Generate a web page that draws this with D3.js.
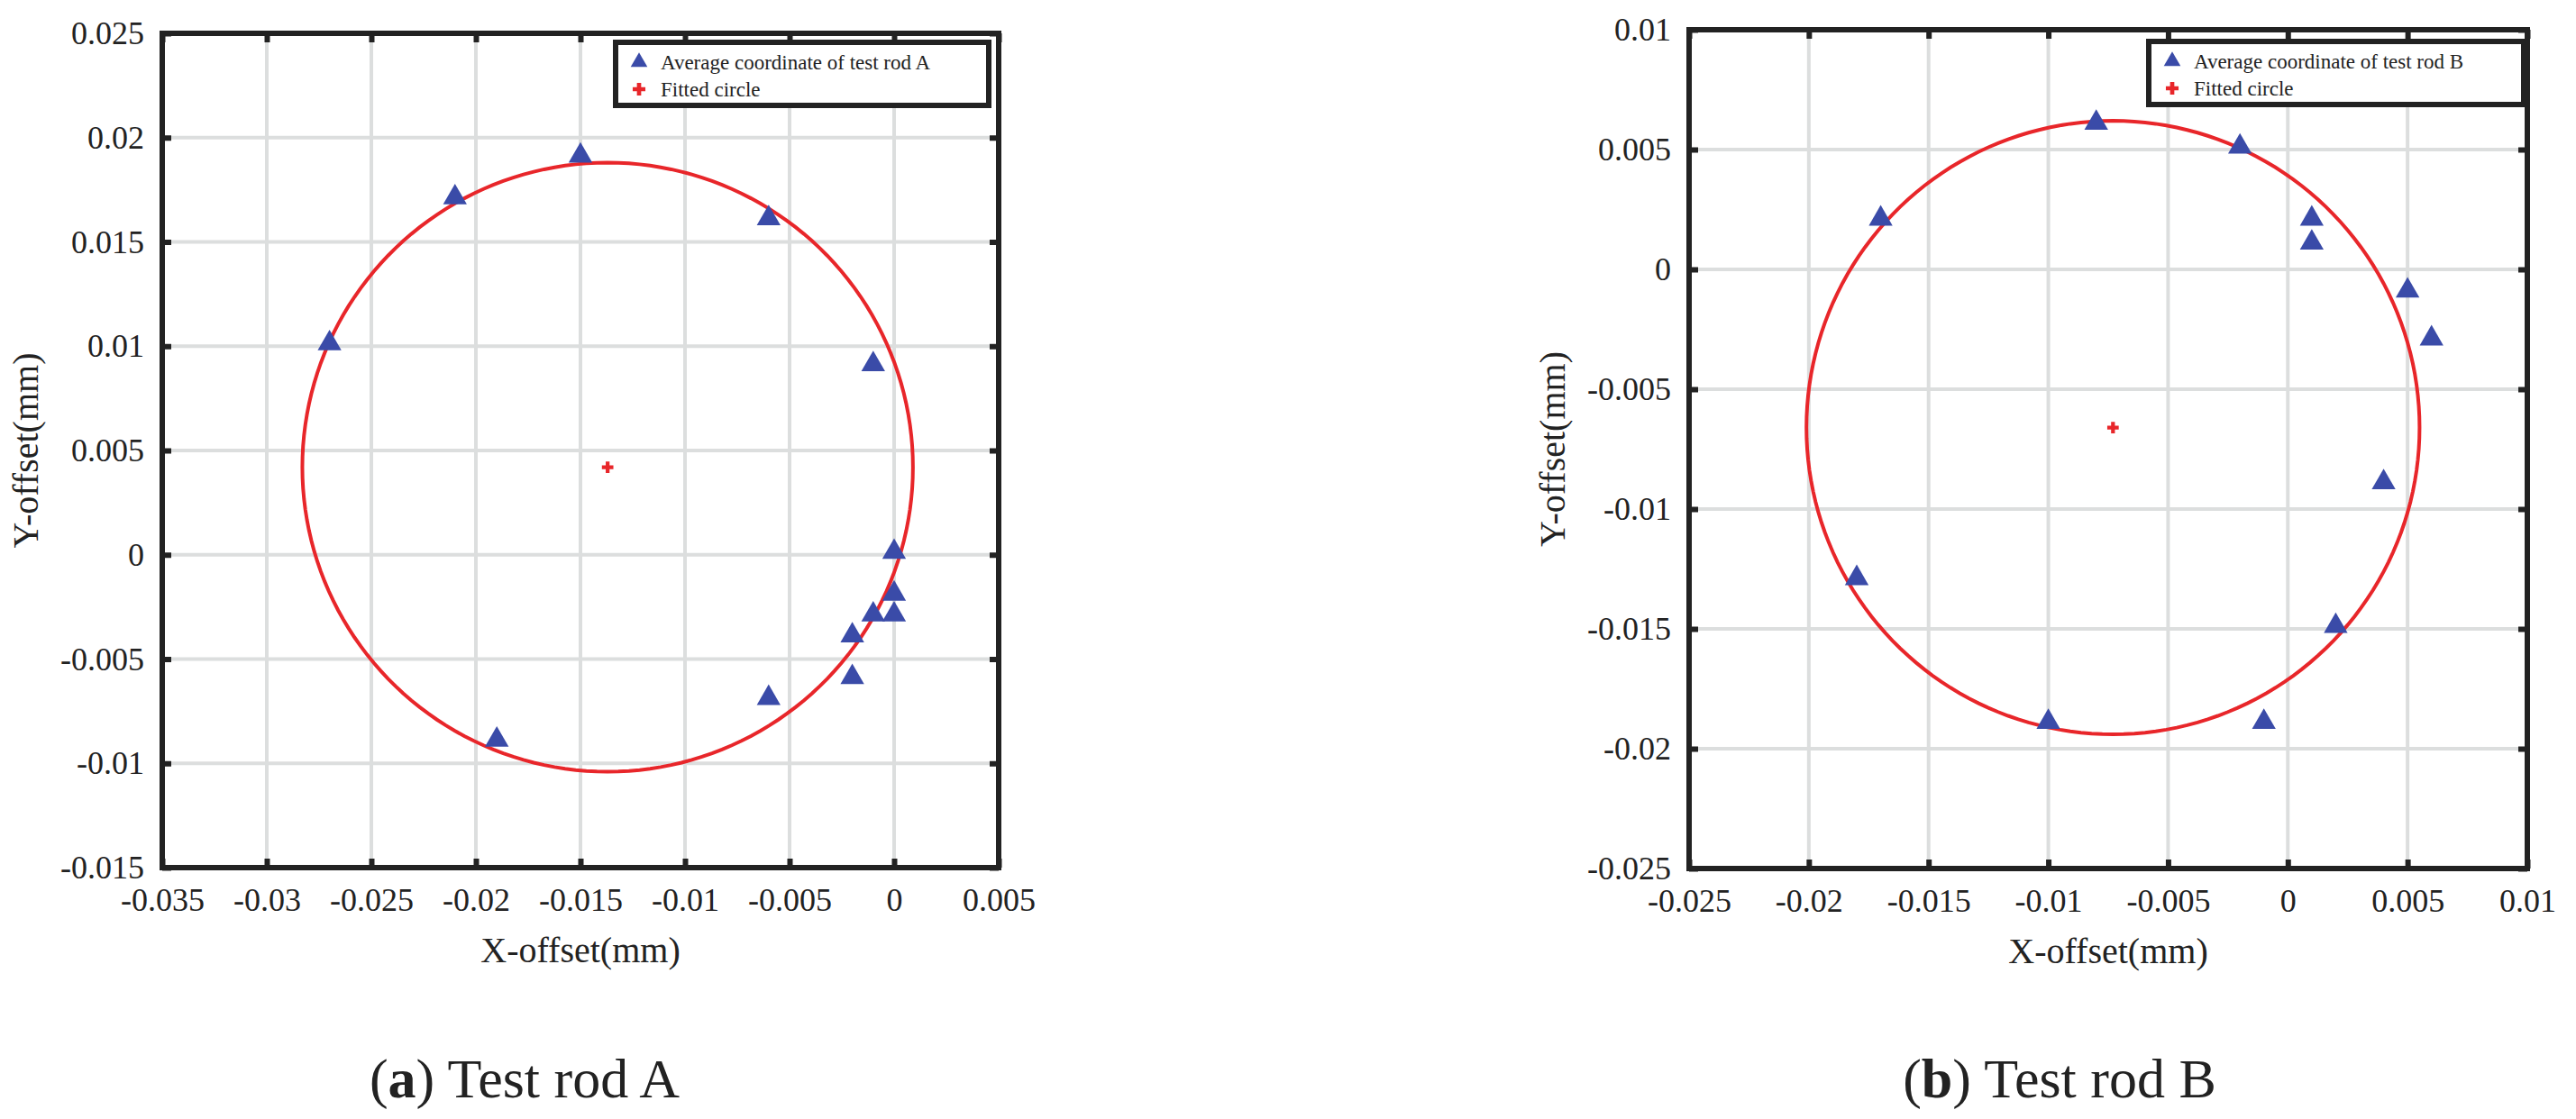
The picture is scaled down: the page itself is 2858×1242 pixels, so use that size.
<!DOCTYPE html>
<html>
<head>
<meta charset="utf-8">
<script src="https://cdn.jsdelivr.net/npm/d3@7"></script>
<style>
  body { margin: 0; background: #fff; }
  svg text { font-family: "Liberation Serif", "Times New Roman", Times, "DejaVu Serif", serif !important; fill: #222; }
</style>
</head>
<body>
<svg id="chart" width="2858" height="1242"></svg>
<script>
// Test rod A
const rodAX = [-0.027, -0.021, -0.015, -0.006, -0.001, 0, 0, 0, -0.001, -0.002, -0.002, -0.006, -0.019];
const rodAY = [0.010, 0.017, 0.019, 0.016, 0.009, 0, -0.002, -0.003, -0.003, -0.004, -0.006, -0.007, -0.009];
const circleA = [-0.0137, 0.0042, 0.0146]; // cx, cy, r
const xTicksA = [-0.035, -0.03, -0.025, -0.02, -0.015, -0.01, -0.005, 0, 0.005];
const yTicksA = [-0.015, -0.01, -0.005, 0, 0.005, 0.01, 0.015, 0.02, 0.025];

// Test rod B
const rodBX = [-0.018, -0.017, -0.008, -0.004, -0.002, 0.001, 0.001, 0.005, 0.006, 0.004, 0.002, -0.001, -0.010];
const rodBY = [-0.013, 0.002, 0.006, 0.007, 0.005, 0.002, 0.001, -0.001, -0.003, -0.009, -0.015, -0.019, -0.019];
const circleB = [-0.0073, -0.0066, 0.0128];
const xTicksB = [-0.025, -0.02, -0.015, -0.01, -0.005, 0, 0.005, 0.01];
const yTicksB = [-0.025, -0.02, -0.015, -0.01, -0.005, 0, 0.005, 0.01];

const svg = d3.select("#chart");
const serif = '"Liberation Serif", "Times New Roman", Times, "DejaVu Serif", serif';
const fmt = d => d === 0 ? "0" : String(+d.toFixed(3));

function panel(cfg) {
  const g = svg.append("g");
  const x = d3.scaleLinear().domain(d3.extent(cfg.xTicks)).range([cfg.left, cfg.right]);
  const y = d3.scaleLinear().domain(d3.extent(cfg.yTicks)).range([cfg.bottom, cfg.top]);

  // grid
  g.selectAll(".gx").data(cfg.xTicks.slice(1, -1)).join("line")
    .attr("x1", d => x(d)).attr("x2", d => x(d))
    .attr("y1", cfg.top).attr("y2", cfg.bottom)
    .attr("stroke", "#dcdede").attr("stroke-width", 4);
  g.selectAll(".gy").data(cfg.yTicks.slice(1, -1)).join("line")
    .attr("y1", d => y(d)).attr("y2", d => y(d))
    .attr("x1", cfg.left).attr("x2", cfg.right)
    .attr("stroke", "#dcdede").attr("stroke-width", 4);

  // fitted circle
  const [cx, cy, r] = cfg.circle;
  const pts = d3.range(0, 361, 2).map(a => [cx + r * Math.cos(a * Math.PI / 180), cy + r * Math.sin(a * Math.PI / 180)]);
  g.append("path")
    .attr("d", d3.line().x(d => x(d[0])).y(d => y(d[1]))(pts))
    .attr("fill", "none").attr("stroke", "#e8262a").attr("stroke-width", 4);

  // center cross
  g.append("path")
    .attr("transform", `translate(${x(cx)},${y(cy)})`)
    .attr("d", d3.symbol(d3.symbolCross, 90)())
    .attr("fill", "#e8262a");

  // points
  const tri = d3.symbol(d3.symbolTriangle, 300)();
  g.selectAll(".pt").data(cfg.xs.map((v, i) => [v, cfg.ys[i]])).join("path")
    .attr("transform", d => `translate(${x(d[0])},${y(d[1]) - 3})`)
    .attr("d", tri).attr("fill", "#3a4ba8");

  // frame axes with inward ticks
  const tick = 10;
  g.append("g").attr("transform", `translate(0,${cfg.bottom})`)
    .call(d3.axisBottom(x).tickValues(cfg.xTicks).tickFormat(fmt).tickSizeInner(-tick).tickSizeOuter(0).tickPadding(22));
  g.append("g").attr("transform", `translate(0,${cfg.top})`)
    .call(d3.axisTop(x).tickValues(cfg.xTicks).tickFormat("").tickSizeInner(-tick).tickSizeOuter(0));
  g.append("g").attr("transform", `translate(${cfg.left},0)`)
    .call(d3.axisLeft(y).tickValues(cfg.yTicks).tickFormat(fmt).tickSizeInner(-tick).tickSizeOuter(0).tickPadding(20));
  g.append("g").attr("transform", `translate(${cfg.right},0)`)
    .call(d3.axisRight(y).tickValues(cfg.yTicks).tickFormat("").tickSizeInner(-tick).tickSizeOuter(0));
  g.selectAll("g").attr("font-family", null);
  g.selectAll(".tick text").attr("fill", "#222").style("font-size", "36px").style("font-family", serif);
  g.selectAll(".domain").remove();
  g.selectAll(".tick line").attr("stroke", "#222").attr("stroke-width", 6);
  g.append("rect")
    .attr("x", cfg.left).attr("y", cfg.top)
    .attr("width", cfg.right - cfg.left).attr("height", cfg.bottom - cfg.top)
    .attr("fill", "none").attr("stroke", "#222").attr("stroke-width", 6);

  // axis titles
  g.append("text").attr("x", (cfg.left + cfg.right) / 2).attr("y", cfg.bottom + 105)
    .attr("text-anchor", "middle").style("font-size", "40px").style("font-family", serif).text("X-offset(mm)");
  g.append("text").attr("transform", `translate(${cfg.ylabX},${(cfg.top + cfg.bottom) / 2}) rotate(-90)`)
    .attr("text-anchor", "middle").style("font-size", "40px").style("font-family", serif).text("Y-offset(mm)");

  // legend
  const L = cfg.legend;
  const lg = g.append("g").attr("transform", `translate(${L[0]},${L[1]})`);
  lg.append("rect").attr("width", L[2]).attr("height", 70)
    .attr("fill", "#fff").attr("stroke", "#222").attr("stroke-width", 6);
  lg.append("path").attr("transform", "translate(26,22)").attr("d", d3.symbol(d3.symbolTriangle, 150)()).attr("fill", "#3a4ba8");
  lg.append("path").attr("transform", "translate(26,52)").attr("d", d3.symbol(d3.symbolCross, 110)()).attr("fill", "#e8262a");
  lg.append("text").attr("x", 50).attr("y", 30).style("font-size", "23px").style("font-family", serif).text(cfg.legendText);
  lg.append("text").attr("x", 50).attr("y", 60).style("font-size", "23px").style("font-family", serif).text("Fitted circle");

  // caption
  const cap = svg.append("text").attr("x", cfg.capX).attr("y", 1218)
    .attr("text-anchor", "middle").style("font-size", "62px").style("font-family", serif);
  cap.append("tspan").text("(");
  cap.append("tspan").attr("font-weight", "bold").text(cfg.capLetter);
  cap.append("tspan").text(") " + cfg.capText);
}

panel({
  xs: rodAX, ys: rodAY, circle: circleA, xTicks: xTicksA, yTicks: yTicksA,
  left: 180, right: 1108, top: 37, bottom: 963, ylabX: 42,
  legend: [683, 47, 414], legendText: "Average coordinate of test rod A",
  capX: 582, capLetter: "a", capText: "Test rod A"
});
panel({
  xs: rodBX, ys: rodBY, circle: circleB, xTicks: xTicksB, yTicks: yTicksB,
  left: 1874, right: 2804, top: 33, bottom: 964, ylabX: 1736,
  legend: [2384, 46, 416], legendText: "Average coordinate of test rod B",
  capX: 2285, capLetter: "b", capText: "Test rod B"
});
</script>
</body>
</html>
